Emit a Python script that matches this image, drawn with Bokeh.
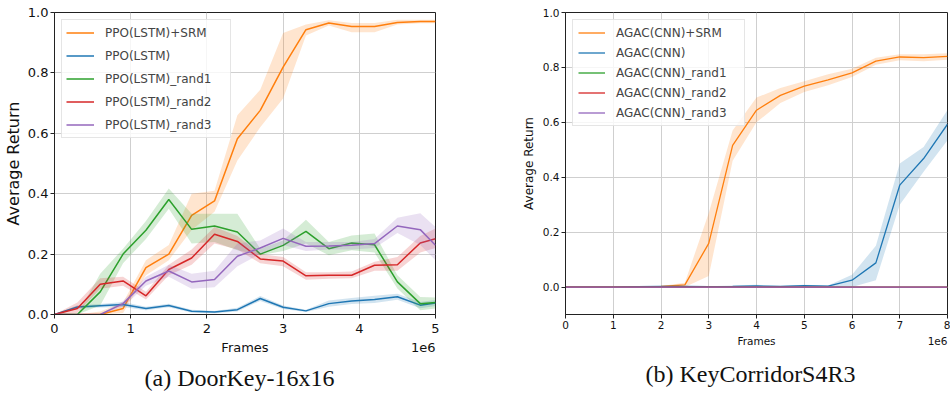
from bokeh.plotting import figure
from bokeh.models import Legend, LegendItem, Title, FixedTicker, Range1d, LinearAxis
from bokeh.layouts import row
from bokeh.embed import file_html
from bokeh.resources import INLINE

# ---------------- data: DoorKey-16x16 (frames in 1e6) ----------------
a_x = [0, 0.3, 0.6, 0.9, 1.2, 1.5, 1.8, 2.1, 2.4, 2.7, 3.0, 3.3, 3.6, 3.9, 4.2, 4.5, 4.8, 5.0]
a_srm = [0, 0, 0, .02, .155, .20, .328, .376, .582, .676, .819, .943, .965, .954, .954, .967, .970, .970]
a_srm_lo = [0, 0, 0, .005, .13, .18, .28, .34, .51, .62, .715, .924, .957, .935, .935, .96, .964, .964]
a_srm_hi = [0, 0, .01, .04, .18, .23, .40, .41, .66, .744, .932, .96, .974, .965, .965, .976, .976, .976]
a_base = [0, .025, .029, .033, .02, .03, .011, .008, .016, .053, .024, .012, .036, .045, .05, .059, .031, .038]
a_base_lo = [0, .019, .023, .025, .014, .024, .006, .004, .010, .045, .018, .008, .026, .035, .038, .049, .021, .028]
a_base_hi = [0, .031, .035, .041, .026, .036, .016, .012, .022, .061, .030, .016, .046, .055, .062, .069, .041, .048]
a_r1 = [0, 0, .075, .2, .279, .381, .282, .293, .273, .2, .229, .275, .218, .237, .231, .108, .036, .04]
a_r1_lo = [0, 0, .03, .17, .25, .35, .235, .24, .213, .196, .21, .235, .196, .213, .205, .086, .014, .02]
a_r1_hi = [0, 0, .135, .218, .31, .417, .334, .334, .334, .218, .245, .314, .24, .262, .268, .13, .058, .056]
a_r2 = [0, .02, .1, .111, .062, .149, .187, .266, .242, .184, .177, .128, .13, .13, .163, .165, .237, .251]
a_r2_lo = [0, .005, .085, .095, .05, .13, .165, .235, .215, .17, .16, .115, .118, .12, .145, .145, .205, .22]
a_r2_hi = [0, .04, .12, .125, .075, .165, .215, .29, .26, .2, .19, .14, .14, .142, .175, .19, .26, .285]
a_r3 = [0, 0, 0, .036, .111, .144, .108, .116, .193, .22, .252, .226, .227, .229, .235, .293, .281, .229]
a_r3_lo = [0, 0, 0, .025, .095, .125, .085, .09, .16, .2, .23, .21, .215, .215, .22, .27, .23, .18]
a_r3_hi = [0, 0, 0, .045, .125, .165, .135, .145, .235, .245, .285, .24, .24, .24, .25, .32, .335, .29]
a_labels = ["PPO(LSTM)+SRM", "PPO(LSTM)", "PPO(LSTM)_rand1", "PPO(LSTM)_rand2", "PPO(LSTM)_rand3"]
a_xticks = [0, 1, 2, 3, 4, 5]
a_xtick_labels = ["0", "1", "2", "3", "4", "5"]
a_yticks = [0.0, 0.2, 0.4, 0.6, 0.8, 1.0]
a_ytick_labels = ["0.0", "0.2", "0.4", "0.6", "0.8", "1.0"]

# ---------------- data: KeyCorridorS4R3 (frames in 1e6) ----------------
b_x = [0, 0.5, 1, 1.5, 2, 2.5, 3, 3.5, 4, 4.5, 5, 5.5, 6, 6.5, 7, 7.5, 8]
b_srm = [0, 0, 0, .001, .002, .008, .159, .516, .644, .698, .732, .755, .78, .823, .838, .836, .84]
b_srm_lo = [0, 0, 0, 0, 0, 0, .04, .46, .6, .67, .71, .735, .765, .81, .826, .822, .828]
b_srm_hi = [0, 0, 0, .002, .004, .016, .27, .57, .69, .725, .75, .775, .795, .835, .848, .848, .852]
b_base = [0, 0, 0, .001, .002, .002, .001, .002, .004, .002, .005, .003, .025, .088, .371, .468, .593]
b_base_lo = [0, 0, 0, 0, 0, 0, 0, 0, 0, 0, 0, 0, 0, .025, .30, .42, .535]
b_base_hi = [0, 0, 0, .002, .004, .004, .003, .006, .008, .004, .008, .006, .045, .15, .45, .51, .645]
b_r1 = [0] * 17
b_r2 = [0] * 17
b_r3 = [0] * 17
b_labels = ["AGAC(CNN)+SRM", "AGAC(CNN)", "AGAC(CNN)_rand1", "AGAC(CNN)_rand2", "AGAC(CNN)_rand3"]
b_xticks = [0, 1, 2, 3, 4, 5, 6, 7, 8]
b_xtick_labels = ["0", "1", "2", "3", "4", "5", "6", "7", "8"]
b_yticks = [0.0, 0.2, 0.4, 0.6, 0.8, 1.0]
b_ytick_labels = ["0.0", "0.2", "0.4", "0.6", "0.8", "1.0"]

COLORS = ["#ff7f0e", "#1f77b4", "#2ca02c", "#d62728", "#9467bd"]
FONT = "DejaVu Sans"
INK = "#111111"
SPINE = "#222222"


def style_axis(ax, fs):
    ax.major_label_text_font = FONT
    ax.major_label_text_font_size = fs
    ax.major_label_text_color = INK
    ax.axis_label_text_font = FONT
    ax.axis_label_text_font_style = "normal"
    ax.axis_label_text_color = INK
    ax.minor_tick_line_color = None


def build(x, series, labels, xr, yr, xticks, xtl, yticks, ytl, caption, cfg):
    p = figure(frame_width=cfg["fw"], frame_height=302,
               x_range=Range1d(*xr), y_range=Range1d(*yr),
               output_backend="svg", toolbar_location=None, title_location=None,
               min_border_left=cfg["bl"], min_border_right=cfg["br"],
               min_border_top=12, min_border_bottom=86,
               background_fill_color="white", border_fill_color="white")
    items = []
    for (y, lo, hi), lab, col in zip(series, labels, COLORS):
        if lo is not None:
            p.varea(x=x, y1=lo, y2=hi, fill_color=col, fill_alpha=0.2)
        r = p.line(x=x, y=y, line_color=col, line_width=cfg["lw"])
        items.append(LegendItem(label=lab, renderers=[r]))
    leg = Legend(items=items, location="top_left", margin=cfg["lm"], padding=cfg["lp"],
                 glyph_width=cfg["gw"], glyph_height=cfg["gh"], label_height=cfg["gh"],
                 spacing=cfg["sp"], label_standoff=11, label_width=cfg["lwid"],
                 label_text_font=FONT, label_text_font_size="12px",
                 border_line_color="#cccccc", border_line_width=1,
                 background_fill_color="white", background_fill_alpha=0.8)
    p.add_layout(leg)

    for ax, ticks, tl in ((p.xaxis[0], xticks, xtl), (p.yaxis[0], yticks, ytl)):
        ax.ticker = FixedTicker(ticks=ticks)
        ax.major_label_overrides = {t: s for t, s in zip(ticks, tl)}
        style_axis(ax, cfg["tfs"])
        ax.axis_line_color = SPINE
        ax.major_tick_line_color = SPINE
        ax.major_tick_out = 4
        ax.major_tick_in = 0
    p.xaxis[0].major_label_standoff = cfg["xls"]
    p.yaxis[0].major_label_standoff = 2
    p.yaxis[0].axis_label = "Average Return"
    p.yaxis[0].axis_label_text_font_size = cfg["ylfs"]
    p.yaxis[0].axis_label_standoff = cfg["yas"]
    p.grid.grid_line_color = "#cfcfcf"
    p.grid.grid_line_width = 1
    p.outline_line_color = SPINE
    p.outline_line_width = 1

    # second row under the tick labels: axis title "Frames" (centred) and the "1e6" scale note (right)
    span = xr[1] - xr[0]
    mid = xr[0] + span / 2
    e6_pos = xr[1] - span * cfg["e6w"] / 2 / cfg["fw"]
    ax2 = LinearAxis(ticker=FixedTicker(ticks=[mid, e6_pos]),
                     major_label_overrides={mid: "Frames", e6_pos: "1e6"},
                     axis_line_color=None, major_tick_line_color=None,
                     major_tick_out=0, major_tick_in=0,
                     major_label_standoff=cfg["fls"])
    style_axis(ax2, cfg["xlfs"])
    p.add_layout(ax2, "below")

    cap = Title(text=caption, align="left", text_font="Liberation Serif", text_font_size="24px",
                text_font_style="normal", text_color=INK, standoff=cfg["cs"], offset=cfg["co"])
    p.add_layout(cap, "below")
    return p


cfg_a = dict(fw=381, bl=54, br=70, lw=1.5, lm=7, lp=4, gw=28, gh=17, sp=6, lwid=121,
             tfs="13px", xlfs="13px", ylfs="16px", yas=2, xls=5, fls=4, e6w=24.5, cs=11, co=90)
cfg_b = dict(fw=382, bl=60, br=3, lw=1.3, lm=7, lp=5, gw=27, gh=15, sp=5, lwid=123,
             tfs="10.5px", xlfs="10.5px", ylfs="12px", yas=4, xls=2, fls=3, e6w=19.8, cs=18, co=80)

p1 = build(a_x, [(a_srm, a_srm_lo, a_srm_hi), (a_base, a_base_lo, a_base_hi),
                 (a_r1, a_r1_lo, a_r1_hi), (a_r2, a_r2_lo, a_r2_hi), (a_r3, a_r3_lo, a_r3_hi)],
           a_labels, (0, 5), (0, 1), a_xticks, a_xtick_labels, a_yticks, a_ytick_labels,
           "(a) DoorKey-16x16", cfg_a)
p2 = build(b_x, [(b_srm, b_srm_lo, b_srm_hi), (b_base, b_base_lo, b_base_hi),
                 (b_r1, None, None), (b_r2, None, None), (b_r3, None, None)],
           b_labels, (0, 8), (-0.1, 1.0), b_xticks, b_xtick_labels, b_yticks, b_ytick_labels,
           "(b) KeyCorridorS4R3", cfg_b)

layout = row(p1, p2)
open("out.html", "w").write(file_html(layout, INLINE))
